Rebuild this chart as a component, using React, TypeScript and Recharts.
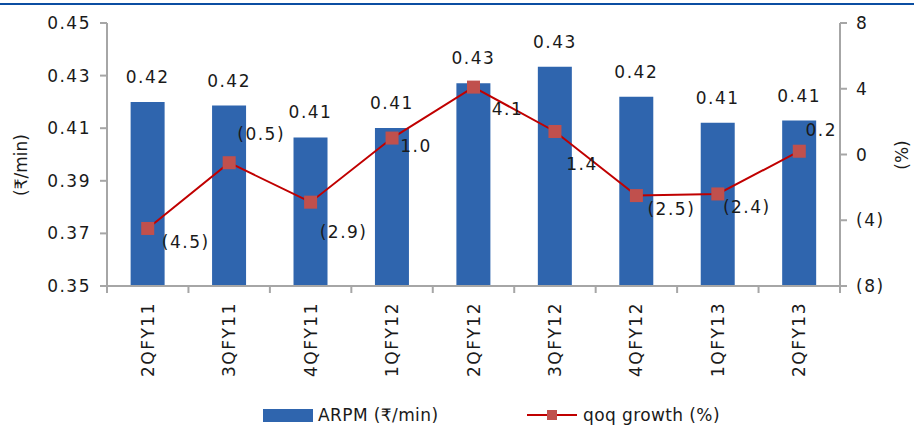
import {
  Bar,
  ComposedChart,
  LabelList,
  Legend,
  Line,
  XAxis,
  YAxis,
} from 'recharts';

const QUARTERS = ['2QFY11', '3QFY11', '4QFY11', '1QFY12', '2QFY12', '3QFY12', '4QFY12', '1QFY13', '2QFY13'];
const ARPM = [0.42, 0.4186, 0.4065, 0.4101, 0.4271, 0.4334, 0.422, 0.4121, 0.4129];
const QOQ_GROWTH = [-4.5, -0.5, -2.9, 1.0, 4.1, 1.4, -2.5, -2.4, 0.2];
const LEFT_TICKS = [0.35, 0.37, 0.39, 0.41, 0.43, 0.45];
const RIGHT_TICKS = [-8, -4, 0, 4, 8];

// label nudges for the growth line (dx, dy from the marker), as in the source
const GROWTH_LABEL_NUDGE = [
  [38, 14], [32, -29], [33, 30], [24, 8], [34, 22], [27, 33], [35, 13], [29, 13], [22, -21],
];

const W = 914;
const H = 427;
const PLOT_LEFT = 107;
const PLOT_RIGHT = 840;
const PLOT_TOP = 23;
const PLOT_BOTTOM = 286;
const STEP = (PLOT_RIGHT - PLOT_LEFT) / QUARTERS.length;

const FONT = '"DejaVu Sans", "Noto Sans", sans-serif';
const TEXT = '#1a1a1a';
const AXIS = '#a6a6a6';
const BLUE = '#2f65ae';
const RED = '#c00000';
const MARKER = '#c0504d';

const data = QUARTERS.map((q, i) => ({ q, arpm: ARPM[i], growth: QOQ_GROWTH[i] }));

const fmtGrowth = (v: number) => (v < 0 ? `(${Math.abs(v).toFixed(1)})` : v.toFixed(1));
const fmtRight = (v: number) => (v < 0 ? `(${Math.abs(v)})` : `${v}`);

function QuarterTick(props: any) {
  const { x, payload, index } = props;
  const ty = PLOT_BOTTOM + 16;
  const last = index === QUARTERS.length - 1;
  return (
    <g>
      <line x1={x - STEP / 2} x2={x - STEP / 2} y1={PLOT_BOTTOM} y2={PLOT_BOTTOM + 7} stroke={AXIS} strokeWidth={2} />
      {last && (
        <line x1={x + STEP / 2} x2={x + STEP / 2} y1={PLOT_BOTTOM} y2={PLOT_BOTTOM + 7} stroke={AXIS} strokeWidth={2} />
      )}
      <text
        x={x}
        y={ty}
        transform={`rotate(-90 ${x} ${ty})`}
        textAnchor="end"
        dy="0.36em"
        fontSize={17}
        letterSpacing={1.5}
        fill={TEXT}
        fontFamily={FONT}
      >
        {payload.value}
      </text>
    </g>
  );
}

function Square(props: any) {
  const { cx, cy } = props;
  if (cx == null || cy == null) return null;
  return <rect x={cx - 6.5} y={cy - 6.5} width={13} height={13} fill={MARKER} />;
}

function GrowthLabel(props: any) {
  const { x, y, value, index } = props;
  const [dx, dy] = GROWTH_LABEL_NUDGE[index] || [20, 0];
  return (
    <text
      x={x + dx}
      y={y + dy}
      textAnchor="middle"
      dominantBaseline="central"
      fontSize={17}
      letterSpacing={1.5}
      fill={TEXT}
      fontFamily={FONT}
    >
      {fmtGrowth(value)}
    </text>
  );
}

function LegendContent() {
  return (
    <div
      style={{
        display: 'flex',
        alignItems: 'center',
        paddingLeft: 263,
        fontFamily: FONT,
        fontSize: 17,
        letterSpacing: 0.4,
        color: TEXT,
        height: 24,
        whiteSpace: 'nowrap',
      }}
    >
      <span style={{ width: 50, height: 13, background: BLUE, display: 'inline-block', marginRight: 5 }} />
      <span style={{ width: 209 }}>ARPM (₹/min)</span>
      <svg width={50} height={14} style={{ marginRight: 6 }}>
        <line x1={0} x2={50} y1={7} y2={7} stroke={RED} strokeWidth={2} />
        <rect x={20} y={2} width={10} height={10} fill={MARKER} />
      </svg>
      <span>qoq growth (%)</span>
    </div>
  );
}

export default function App() {
  const tick = { fontSize: 17, fill: TEXT, fontFamily: FONT, letterSpacing: 1.5 };
  return (
    <div style={{ position: 'absolute', left: 0, top: 0, width: W, height: H, background: '#fff' }}>
      <div style={{ position: 'absolute', left: 0, top: 3, width: W, height: 2, background: '#0b4ea2' }} />
      <ComposedChart
        width={W}
        height={H}
        data={data}
        margin={{ top: PLOT_TOP, right: 0, left: 0, bottom: 0 }}
        barCategoryGap="29%"
      >
        <XAxis
          dataKey="q"
          height={117}
          tickLine={false}
          axisLine={{ stroke: AXIS, strokeWidth: 2 }}
          tick={<QuarterTick />}
          interval={0}
        />
        <YAxis
          yAxisId="left"
          width={PLOT_LEFT}
          domain={[0.35, 0.45]}
          ticks={LEFT_TICKS}
          tickFormatter={(v: number) => v.toFixed(2)}
          axisLine={{ stroke: AXIS, strokeWidth: 2 }}
          tickLine={{ stroke: AXIS, strokeWidth: 2 }}
          tickSize={7}
          tickMargin={9}
          tick={tick}
          allowDataOverflow
        />
        <YAxis
          yAxisId="right"
          orientation="right"
          width={W - PLOT_RIGHT}
          domain={[-8, 8]}
          ticks={RIGHT_TICKS}
          tickFormatter={fmtRight}
          axisLine={{ stroke: AXIS, strokeWidth: 2 }}
          tickLine={{ stroke: AXIS, strokeWidth: 2 }}
          tickSize={7}
          tickMargin={9}
          tick={tick}
        />
        <Legend verticalAlign="bottom" height={24} content={<LegendContent />} />
        <Bar yAxisId="left" dataKey="arpm" name="ARPM (₹/min)" fill={BLUE} isAnimationActive={false}>
          <LabelList
            dataKey="arpm"
            position="top"
            offset={19}
            formatter={(v: any) => Number(v).toFixed(2)}
            style={{ fontSize: 17, fill: TEXT, fontFamily: FONT, letterSpacing: 1.5 }}
          />
        </Bar>
        <Line
          yAxisId="right"
          dataKey="growth"
          name="qoq growth (%)"
          stroke={RED}
          strokeWidth={2}
          dot={<Square />}
          activeDot={false}
          isAnimationActive={false}
        >
          <LabelList dataKey="growth" content={<GrowthLabel />} />
        </Line>
      </ComposedChart>
      <div
        style={{
          position: 'absolute',
          left: 21,
          top: 165,
          transform: 'translate(-50%, -50%) rotate(-90deg)',
          fontFamily: FONT,
          fontSize: 17,
          color: TEXT,
          whiteSpace: 'nowrap',
        }}
      >
        (₹/min)
      </div>
      <div
        style={{
          position: 'absolute',
          left: 902,
          top: 155,
          transform: 'translate(-50%, -50%) rotate(-90deg)',
          fontFamily: FONT,
          fontSize: 17,
          color: TEXT,
          whiteSpace: 'nowrap',
        }}
      >
        (%)
      </div>
    </div>
  );
}
